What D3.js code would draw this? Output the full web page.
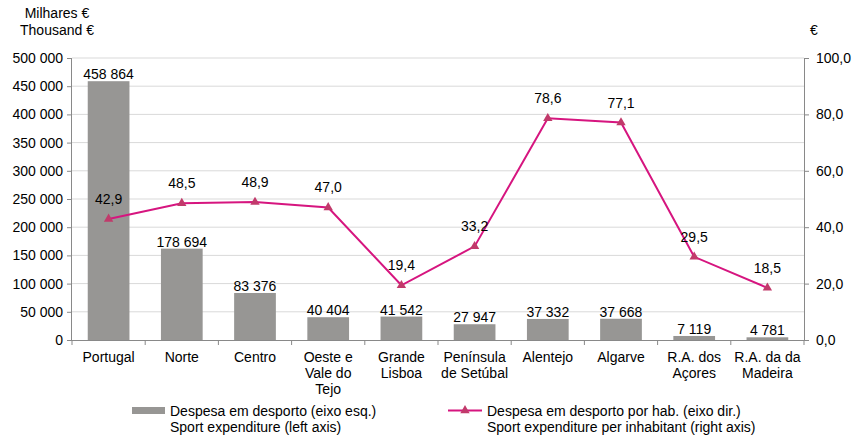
<!DOCTYPE html>
<html><head><meta charset="utf-8">
<script src="https://cdn.jsdelivr.net/npm/d3@7"></script>
<style>body{margin:0;background:#fff}svg{display:block;font-family:"Liberation Sans",Arial,sans-serif}</style>
</head><body>
<script>
const categories = [["Portugal"],["Norte"],["Centro"],["Oeste e","Vale do","Tejo"],["Grande","Lisboa"],["Península","de Setúbal"],["Alentejo"],["Algarve"],["R.A. dos","Açores"],["R.A. da da","Madeira"]];
// bar heights as drawn in the picture (Norte bar is drawn shorter than its label)
const expenditureBars = [458864,162000,83376,40404,41542,27947,37332,37668,7119,4781];
// printed bar labels
const expenditureLabels = [458864,178694,83376,40404,41542,27947,37332,37668,7119,4781];
const perInhabitant = [42.9,48.5,48.9,47.0,19.4,33.2,78.6,77.1,29.5,18.5];
const leftTicks = [0,50000,100000,150000,200000,250000,300000,350000,400000,450000,500000];
const rightTicks = [0,20,40,60,80,100];

const W=857,H=435,FS=14;
const m={l:72,r:804,t:58,b:340};
const svg=d3.select("body").append("svg").attr("width",W).attr("height",H);
const x=d3.scaleBand().domain(d3.range(categories.length)).range([m.l,m.r]).paddingInner(0.43).paddingOuter(0.215);
const xb=d3.scaleBand().domain(d3.range(categories.length)).range([m.l,m.r]);
const yL=d3.scaleLinear().domain([0,500000]).range([m.b,m.t]);
const yR=d3.scaleLinear().domain([0,100]).range([m.b,m.t]);
const fmtL=v=>d3.format(",")(v).replace(/,/g," ");
const fmtR=v=>d3.format(".1f")(v).replace(".",",");

// gridlines
svg.append("g").selectAll("line").data(leftTicks.slice(1)).join("line")
  .attr("x1",m.l).attr("x2",m.r).attr("y1",d=>yL(d)).attr("y2",d=>yL(d))
  .attr("stroke","#d9d9d9").attr("stroke-width",1);

// bars
svg.append("g").selectAll("rect").data(expenditureBars).join("rect")
  .attr("x",(d,i)=>x(i)).attr("width",x.bandwidth())
  .attr("y",d=>yL(d)).attr("height",d=>m.b-yL(d)).attr("fill","#979694");

// axes
const gl=svg.append("g").attr("transform",`translate(${m.l},0)`)
  .call(d3.axisLeft(yL).tickValues(leftTicks).tickFormat(fmtL).tickSize(5).tickPadding(4));
gl.select(".domain").attr("d",`M-0.5,${m.t}V${m.b}`);
const gr=svg.append("g").attr("transform",`translate(${m.r},0)`)
  .call(d3.axisRight(yR).tickValues(rightTicks).tickFormat(fmtR).tickSize(5).tickPadding(7));
gr.select(".domain").attr("d",`M0.5,${m.t}V${m.b}`);
[gl,gr].forEach(g=>{g.attr("font-size",FS).attr("font-family","Liberation Sans, Arial, sans-serif");
  g.selectAll(".domain").attr("stroke","#898989");g.selectAll(".tick line").attr("stroke","#898989");
  g.selectAll("text").attr("fill","#000");});

// bottom axis line & ticks
svg.append("line").attr("x1",m.l).attr("x2",m.r).attr("y1",m.b+0.5).attr("y2",m.b+0.5).attr("stroke","#898989");
svg.append("g").selectAll("line").data(d3.range(categories.length+1)).join("line")
  .attr("x1",i=>m.l+i*xb.step()).attr("x2",i=>m.l+i*xb.step()).attr("y1",m.b).attr("y2",m.b+5).attr("stroke","#898989");

// category labels
const cl=svg.append("g").selectAll("text").data(categories).join("text")
  .attr("x",(d,i)=>xb(i)+xb.bandwidth()/2).attr("y",362).attr("text-anchor","middle").attr("font-size",FS);
cl.selectAll("tspan").data(d=>d).join("tspan").attr("x",function(){return this.parentNode.getAttribute("x");})
  .attr("dy",(d,i)=>i?16:0).text(d=>d);

// bar labels
svg.append("g").selectAll("text").data(expenditureLabels).join("text")
  .attr("x",(d,i)=>x(i)+x.bandwidth()/2).attr("y",(d,i)=>yL(expenditureBars[i])-2).attr("text-anchor","middle").attr("font-size",FS).text(fmtL);

// line
const cx=i=>xb(i)+xb.bandwidth()/2;
svg.append("path").datum(perInhabitant).attr("fill","none").attr("stroke","#d6157f").attr("stroke-width",2)
  .attr("d",d3.line().x((d,i)=>cx(i)).y(d=>yR(d)));
const tri=d3.symbol().type(d3.symbolTriangle).size(38);
svg.append("g").selectAll("path").data(perInhabitant).join("path")
  .attr("transform",(d,i)=>`translate(${cx(i)},${yR(d)})`).attr("d",tri).attr("fill","#c13a6b");
svg.append("g").selectAll("text").data(perInhabitant).join("text")
  .attr("x",(d,i)=>cx(i)).attr("y",d=>yR(d)-15).attr("text-anchor","middle").attr("font-size",FS).text(fmtR);

// axis titles
svg.append("text").attr("x",57).attr("y",18).attr("text-anchor","middle").attr("font-size",FS).text("Milhares €");
svg.append("text").attr("x",57).attr("y",35).attr("text-anchor","middle").attr("font-size",FS).text("Thousand €");
svg.append("text").attr("x",814).attr("y",35).attr("text-anchor","middle").attr("font-size",FS).text("€");

// legend
svg.append("rect").attr("x",132).attr("y",407).attr("width",33).attr("height",7).attr("fill","#979694");
const t1=svg.append("text").attr("x",170).attr("y",416).attr("font-size",FS);
t1.append("tspan").attr("x",170).text("Despesa em desporto (eixo esq.)");
t1.append("tspan").attr("x",170).attr("dy",16).text("Sport expenditure (left axis)");
svg.append("line").attr("x1",448).attr("x2",482).attr("y1",410.5).attr("y2",410.5).attr("stroke","#d6157f").attr("stroke-width",2);
svg.append("path").attr("transform","translate(465,410.5)").attr("d",tri).attr("fill","#c13a6b");
const t2=svg.append("text").attr("x",487).attr("y",416).attr("font-size",FS);
t2.append("tspan").attr("x",487).text("Despesa em desporto por hab. (eixo dir.)");
t2.append("tspan").attr("x",487).attr("dy",16).text("Sport expenditure per inhabitant (right axis)");
</script>
</body></html>
